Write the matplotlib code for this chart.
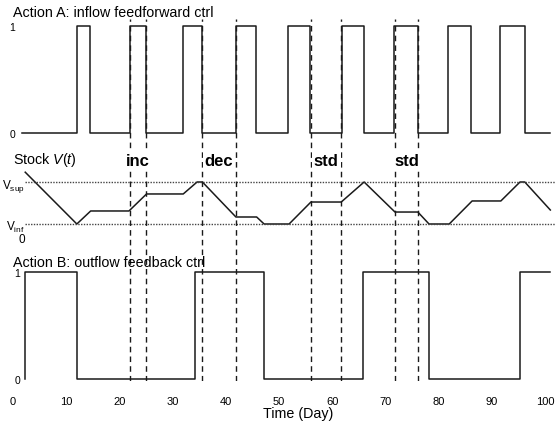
import matplotlib.pyplot as plt

plt.rcParams['font.family'] = ['Liberation Sans', 'DejaVu Sans']
plt.rcParams['mathtext.fontset'] = 'custom'
plt.rcParams['mathtext.rm'] = 'Liberation Sans'
plt.rcParams['mathtext.it'] = 'Liberation Sans:italic'

# Action A pulses (inflow feedforward), days
a_on = [12.0, 22.0, 31.9, 41.9, 51.7, 61.8, 71.6, 81.8, 91.5]
a_off = [14.5, 25.0, 35.5, 45.7, 55.8, 66.0, 76.1, 86.1, 96.2]
a_start, a_end = 1.7, 101.0

# Action B switching times (outflow feedback), starts off then on
b_switch = [2.3, 12.0, 34.3, 47.2, 65.8, 78.2, 95.3]
b_end = 101.0

# Stock V(t)
stock_t = [2.3, 12.0, 14.6, 21.8, 25.1, 32.0, 34.6, 35.6, 41.9, 45.8, 47.2, 51.9,
           56.0, 61.7, 66.0, 71.8, 76.1, 78.2, 82.0, 86.3, 91.7, 95.3, 96.2, 101.0]
stock_v = [94, 20, 38.6, 38.6, 62.9, 62.9, 80, 80, 30, 30, 20, 20,
           51.4, 51.4, 80, 37.1, 37.1, 20, 20, 52.9, 52.9, 80, 80, 40]
v_inf, v_sup = 20, 80

# event windows
events = [(22.0, 25.0, 'inc'), (35.5, 41.9, 'dec'), (56.0, 61.7, 'std'), (71.8, 76.1, 'std')]

xticks = [0, 10, 20, 30, 40, 50, 60, 70, 80, 90, 100]

W, H = 555, 427
fig = plt.figure(figsize=(W / 100, H / 100), dpi=100)


def box(y_top, y_bot):
    # pixel rows -> figure fraction axes rectangle
    return [13 / W, 1 - y_bot / H, (545 - 13) / W, (y_bot - y_top) / H]


def step_xy(edges, start_level, x0, x1):
    xs, ys = [x0], [start_level]
    lvl = start_level
    for e in edges:
        xs += [e, e]
        ys += [lvl, 1 - lvl]
        lvl = 1 - lvl
    xs.append(x1)
    ys.append(lvl)
    return xs, ys


lw = 1.1
col = '#1a1a1a'

# top panel
ax1 = fig.add_axes(box(27, 134))
edges_a = sorted(a_on + a_off)
xs, ys = step_xy(edges_a, 0, a_start, a_end)
ax1.plot(xs, ys, color=col, lw=lw, clip_on=False)
ax1.set_ylim(0, 1)

# middle panel
ax2 = fig.add_axes(box(169, 239))
ax2.plot(stock_t, stock_v, color=col, lw=lw, clip_on=False)
ax2.hlines([v_inf, v_sup], 2.2, 102.5, colors='#444444', linestyles=(0, (1, 1)),
           lw=1.0, clip_on=False)
ax2.set_ylim(0, 100)

# bottom panel
ax3 = fig.add_axes(box(273, 380))
xs, ys = step_xy(b_switch, 0, b_switch[0], b_end)
ax3.plot(xs[1:], ys[1:], color=col, lw=lw, clip_on=False)
ax3.set_ylim(0, 1)

for ax in (ax1, ax2, ax3):
    ax.set_xlim(0, 100)
    for s in ax.spines.values():
        s.set_visible(False)
    ax.set_xticks([])

ax1.set_yticks([0, 1])
ax1.tick_params(axis='y', length=0, pad=-1.5, labelsize=7.5)
ax2.set_yticks([0, v_inf, v_sup])
ax2.set_yticklabels(['0', r'$\mathregular{V_{inf}}$', r'$\mathregular{V_{sup}}$'])
ax2.tick_params(axis='y', length=0, pad=-8.5, labelsize=8.5)
ax3.set_yticks([0, 1])
ax3.tick_params(axis='y', length=0, pad=-5, labelsize=7.5)
ax3.set_xticks(xticks)
ax3.tick_params(axis='x', length=0, pad=12, labelsize=8)

# dashed event lines across all panels
ax0 = fig.add_axes([13 / W, 1 - 382 / H, (545 - 13) / W, (382 - 20) / H])
ax0.set_xlim(0, 100)
ax0.set_ylim(0, 1)
ax0.axis('off')
for t0, t1, lab in events:
    ax0.vlines([t0, t1], 0, 1, colors=col, linestyles=(0, (4, 3)), lw=1.0)
    fig.text((t0 + t1) / 2, 110, lab, transform=ax2.transData, ha='center', va='center',
             fontsize=12, fontweight='bold', zorder=5,
             bbox=dict(facecolor='white', edgecolor='none', pad=1.5))

fig.text(13 / W, 1 - 13 / H, 'Action A: inflow feedforward ctrl', fontsize=10.3,
         ha='left', va='center')
fig.text(13 / W, 1 - 160 / H, r'Stock $\mathit{V(t)}$', fontsize=10.3, ha='left', va='center')
fig.text(13 / W, 1 - 263 / H, 'Action B: outflow feedback ctrl', fontsize=10.3,
         ha='left', va='center')
fig.text(298 / W, 1 - 414 / H, 'Time (Day)', fontsize=10.3, ha='center', va='center')

fig.savefig('out.png', dpi=100)
